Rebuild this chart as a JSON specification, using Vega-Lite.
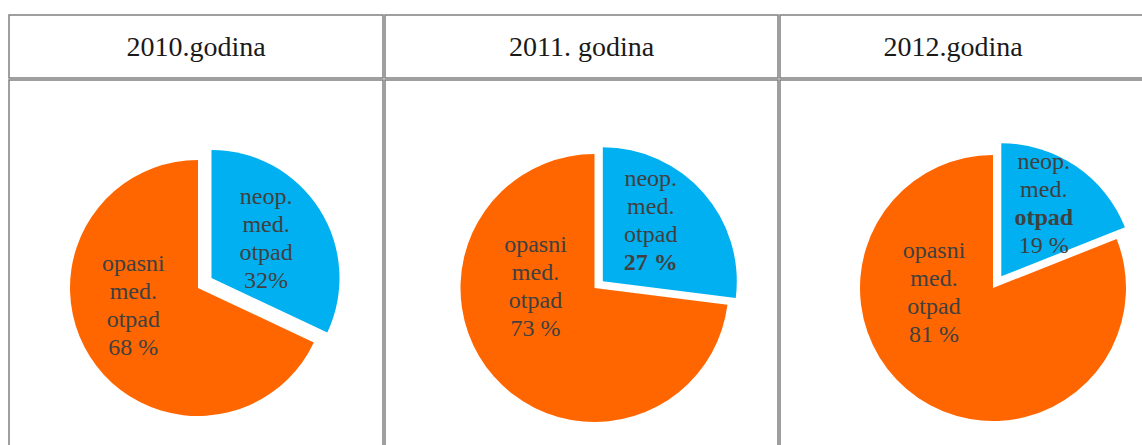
{
  "$schema": "https://vega.github.io/schema/vega-lite/v6.json",
  "padding": {"left": 8, "top": 14, "right": 0, "bottom": 0},
  "background": "white",
  "spacing": 0,
  "config": {
    "view": {"stroke": "#808080", "strokeWidth": 1.5},
    "style": {"view": {"stroke": "#808080", "strokeWidth": 1.5}},
    "concat": {"spacing": 0},
    "text": {"font": "Liberation Serif"}
  },
  "hconcat": [
    {
      "spacing": 0,
      "vconcat": [
        {
          "width": 374, "height": 63,
          "data": {"values": [{"title": "2010.godina"}]},
          "mark": {"type": "text", "fontSize": 28, "color": "#1a1a1a", "baseline": "middle", "dy": 1.5},
          "encoding": {"text": {"field": "title"}}
        },
        {
          "width": 374, "height": 416,
          "data": {"values": [
            {"kat": "neop", "pct": 32, "label": "neop.\nmed.\notpad\n32%"},
            {"kat": "opasni", "pct": 68, "label": "opasni\nmed.\notpad\n68 %"}
          ]},
          "encoding": {
            "theta": {"field": "pct", "type": "quantitative", "stack": true},
            "order": {"field": "kat", "type": "nominal", "sort": "ascending"}
          },
          "layer": [
            {
              "mark": {"type": "arc", "radius": 128, "fill": "#FF6600", "xOffset": 2},
              "encoding": {"fillOpacity": {"condition": {"test": "datum.kat === 'opasni'", "value": 1}, "value": 0}}
            },
            {
              "mark": {"type": "arc", "radius": 128, "fill": "#00B0F0", "xOffset": 15.5, "yOffset": -10},
              "encoding": {"fillOpacity": {"condition": {"test": "datum.kat === 'neop'", "value": 1}, "value": 0}}
            },
            {
              "mark": {"type": "text", "radius": 60, "dx": -12, "dy": -56, "fontSize": 24, "lineHeight": 28, "lineBreak": "\n", "color": "#404040", "baseline": "middle", "align": "center"},
              "encoding": {"text": {"condition": {"test": "datum.kat === 'opasni'", "field": "label"}, "value": ""}}
            },
            {
              "mark": {"type": "text", "radius": 67, "dx": 13.5, "dy": -55, "fontSize": 24, "lineHeight": 28, "lineBreak": "\n", "color": "#404040", "baseline": "middle", "align": "center"},
              "encoding": {"text": {"condition": {"test": "datum.kat === 'neop'", "field": "label"}, "value": ""}}
            }
          ]
        }
      ]
    },
    {
      "spacing": 0,
      "vconcat": [
        {
          "width": 393, "height": 63,
          "data": {"values": [{"title": "2011. godina"}]},
          "mark": {"type": "text", "fontSize": 28, "color": "#1a1a1a", "baseline": "middle", "dy": 1.5},
          "encoding": {"text": {"field": "title"}}
        },
        {
          "width": 393, "height": 416,
          "data": {"values": [
            {"kat": "neop", "pct": 27, "label": "neop.\nmed.\notpad", "bold": "27 %"},
            {"kat": "opasni", "pct": 73, "label": "opasni\nmed.\notpad\n73 %", "bold": ""}
          ]},
          "encoding": {
            "theta": {"field": "pct", "type": "quantitative", "stack": true},
            "order": {"field": "kat", "type": "nominal", "sort": "ascending"}
          },
          "layer": [
            {
              "mark": {"type": "arc", "radius": 134, "fill": "#FF6600", "xOffset": 13},
              "encoding": {"fillOpacity": {"condition": {"test": "datum.kat === 'opasni'", "value": 1}, "value": 0}}
            },
            {
              "mark": {"type": "arc", "radius": 134, "fill": "#00B0F0", "xOffset": 21.3, "yOffset": -6.7},
              "encoding": {"fillOpacity": {"condition": {"test": "datum.kat === 'neop'", "value": 1}, "value": 0}}
            },
            {
              "mark": {"type": "text", "radius": 50, "dx": -8.5, "dy": -76, "fontSize": 24, "lineHeight": 28, "lineBreak": "\n", "color": "#404040", "baseline": "middle", "align": "center"},
              "encoding": {"text": {"condition": {"test": "datum.kat === 'opasni'", "field": "label"}, "value": ""}}
            },
            {
              "mark": {"type": "text", "radius": 75, "dx": 13, "dy": -59, "fontSize": 24, "lineHeight": 28, "lineBreak": "\n", "color": "#404040", "baseline": "middle", "align": "center"},
              "encoding": {"text": {"condition": {"test": "datum.kat === 'neop'", "field": "label"}, "value": ""}}
            },
            {
              "mark": {"type": "text", "radius": 75, "dx": 13, "dy": 25, "fontSize": 24, "fontWeight": "bold", "color": "#404040", "baseline": "middle", "align": "center"},
              "encoding": {"text": {"condition": {"test": "datum.kat === 'neop'", "field": "bold"}, "value": ""}}
            }
          ]
        }
      ]
    },
    {
      "spacing": 0,
      "vconcat": [
        {
          "width": 426, "height": 63,
          "data": {"values": [{"title": "2012.godina"}]},
          "mark": {"type": "text", "fontSize": 28, "color": "#1a1a1a", "baseline": "middle", "dy": 1.5, "dx": -40},
          "encoding": {"text": {"field": "title"}}
        },
        {
          "width": 426, "height": 416,
          "data": {"values": [
            {"kat": "neop", "pct": 19, "label": "neop.\nmed.", "bold": "otpad", "label2": "19 %"},
            {"kat": "opasni", "pct": 81, "label": "opasni\nmed.\notpad\n81 %", "bold": "", "label2": ""}
          ]},
          "encoding": {
            "theta": {"field": "pct", "type": "quantitative", "stack": true},
            "order": {"field": "kat", "type": "nominal", "sort": "ascending"}
          },
          "layer": [
            {
              "mark": {"type": "arc", "radius": 133, "fill": "#FF6600"},
              "encoding": {"fillOpacity": {"condition": {"test": "datum.kat === 'opasni'", "value": 1}, "value": 0}}
            },
            {
              "mark": {"type": "arc", "radius": 133, "fill": "#00B0F0", "xOffset": 8.3, "yOffset": -11.7},
              "encoding": {"fillOpacity": {"condition": {"test": "datum.kat === 'neop'", "value": 1}, "value": 0}}
            },
            {
              "mark": {"type": "text", "radius": 40, "dx": -36.5, "dy": -70.5, "fontSize": 24, "lineHeight": 28, "lineBreak": "\n", "color": "#404040", "baseline": "middle", "align": "center"},
              "encoding": {"text": {"condition": {"test": "datum.kat === 'opasni'", "field": "label"}, "value": ""}}
            },
            {
              "mark": {"type": "text", "radius": 85, "dx": 3, "dy": -55.2, "fontSize": 24, "lineHeight": 28, "lineBreak": "\n", "color": "#404040", "baseline": "middle", "align": "center"},
              "encoding": {"text": {"condition": {"test": "datum.kat === 'neop'", "field": "label"}, "value": ""}}
            },
            {
              "mark": {"type": "text", "radius": 85, "dx": 3, "dy": 0.8, "fontSize": 24, "fontWeight": "bold", "color": "#404040", "baseline": "middle", "align": "center"},
              "encoding": {"text": {"condition": {"test": "datum.kat === 'neop'", "field": "bold"}, "value": ""}}
            },
            {
              "mark": {"type": "text", "radius": 85, "dx": 3, "dy": 28.8, "fontSize": 24, "color": "#404040", "baseline": "middle", "align": "center"},
              "encoding": {"text": {"condition": {"test": "datum.kat === 'neop'", "field": "label2"}, "value": ""}}
            }
          ]
        }
      ]
    }
  ]
}
